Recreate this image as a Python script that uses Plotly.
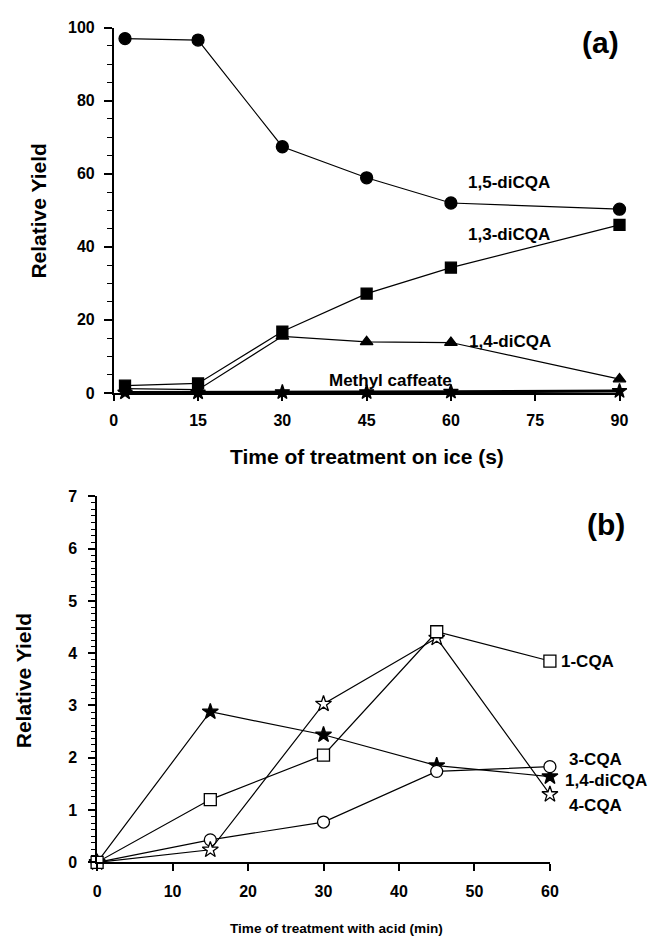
import plotly.graph_objects as go

# ---- (a) treatment on ice ----
time_ice = [2, 15, 30, 45, 60, 90]
dicqa_15 = [97.0, 96.6, 67.4, 58.9, 52.0, 50.3]
dicqa_13 = [2.0, 2.6, 16.8, 27.2, 34.3, 46.0]
dicqa_14 = [1.2, 0.9, 15.5, 14.0, 13.8, 3.8]
methyl_caffeate = [0.1, 0.1, 0.2, 0.2, 0.3, 0.5]
ice_xticks = [0, 15, 30, 45, 60, 75, 90]
ice_ystep, ice_yminor = 20, 5

# ---- (b) treatment with acid ----
time_acid = [0, 15, 30, 45, 60]
cqa_1 = [0.0, 1.20, 2.05, 4.41, 3.85]
cqa_3 = [0.0, 0.43, 0.77, 1.74, 1.83]
dicqa_14_acid = [0.0, 2.88, 2.44, 1.85, 1.64]
cqa_4 = [0.0, 0.24, 3.03, 4.29, 1.30]
acid_xticks = [0, 10, 20, 30, 40, 50, 60]
acid_ystep, acid_yminor = 1, 0.125

W, H = 653, 944
FONT = "Liberation Sans, Arial, sans-serif"


def px(x):
    return x / W


def py(y):
    return 1 - y / H


def line_trace(x, y, symbol, xa, ya, fill="black", size=11, width=1.2):
    return go.Scatter(
        x=x, y=y, xaxis=xa, yaxis=ya, mode="lines+markers",
        line=dict(color="black", width=width),
        marker=dict(symbol=symbol, size=size, color=fill,
                    line=dict(color="black", width=1.3)),
        cliponaxis=False, showlegend=False, hoverinfo="x+y",
    )


fig = go.Figure()

# panel (a)
fig.add_trace(line_trace(time_ice, methyl_caffeate, "star", "x", "y", size=11, width=3))
fig.add_trace(line_trace(time_ice, dicqa_14, "triangle-up", "x", "y"))
fig.add_trace(line_trace(time_ice, dicqa_13, "square", "x", "y", size=11))
fig.add_trace(line_trace(time_ice, dicqa_15, "circle", "x", "y", size=12))

# panel (b)
fig.add_trace(line_trace(time_acid, dicqa_14_acid, "star", "x2", "y2", size=12))
fig.add_trace(line_trace(time_acid, cqa_3, "circle", "x2", "y2", fill="white", size=12))
fig.add_trace(line_trace(time_acid, cqa_4, "star", "x2", "y2", fill="white", size=12))
fig.add_trace(line_trace(time_acid, cqa_1, "square", "x2", "y2", fill="white", size=12))

tickfont = dict(family=FONT, size=16, color="black", weight="bold")
axis_common = dict(
    showline=True, linecolor="black", linewidth=1.6, mirror=False,
    showgrid=False, zeroline=False, ticks="outside", tickcolor="black",
    tickwidth=1.5, tickfont=tickfont, fixedrange=True,
)

fig.update_layout(
    width=W, height=H,
    margin=dict(l=0, r=0, t=0, b=0),
    paper_bgcolor="white", plot_bgcolor="white",
    xaxis=dict(
        axis_common, domain=[px(112), px(628)], range=[0, 90],
        tickmode="array", tickvals=ice_xticks, ticklen=6,
        anchor="y", ticklabelstandoff=6,
    ),
    yaxis=dict(
        axis_common, domain=[py(392), py(20)], range=[0, 100],
        tickmode="linear", tick0=0, dtick=ice_ystep, ticklen=8,
        minor=dict(ticks="outside", tick0=0, dtick=ice_yminor, ticklen=5,
                   tickwidth=1.4, tickcolor="black"),
        anchor="x", ticklabelstandoff=6,
    ),
    xaxis2=dict(
        axis_common, domain=[px(95), px(557)], range=[0, 60],
        tickmode="array", tickvals=acid_xticks, ticklen=7,
        anchor="y2", ticklabelstandoff=7,
    ),
    yaxis2=dict(
        axis_common, domain=[py(870), py(497.3)], range=[0, 7],
        tickmode="linear", tick0=0, dtick=acid_ystep, ticklen=7,
        minor=dict(ticks="outside", tick0=0, dtick=acid_yminor, ticklen=4,
                   tickwidth=1.2, tickcolor="black"),
        anchor="x2", ticklabelstandoff=8,
    ),
)

ann = []


def paper_text(text, x, y, size, angle=0, xanchor="center"):
    ann.append(dict(
        text=text, x=px(x), y=py(y), xref="paper", yref="paper",
        xanchor=xanchor, yanchor="middle", showarrow=False, textangle=angle,
        font=dict(family=FONT, size=size, color="black", weight="bold"),
    ))


def axis_text(text, x, y, xa, ya, size=17):
    # place a label at data coordinates (x, y), converted to paper space so that
    # labels lying past the axis range are still drawn
    dom_x = fig.layout[xa].domain
    dom_y = fig.layout[ya].domain
    rx = fig.layout[xa].range
    ry = fig.layout[ya].range
    fx = dom_x[0] + (x - rx[0]) / (rx[1] - rx[0]) * (dom_x[1] - dom_x[0])
    fy = dom_y[0] + (y - ry[0]) / (ry[1] - ry[0]) * (dom_y[1] - dom_y[0])
    ann.append(dict(
        text=text, x=fx, y=fy, xref="paper", yref="paper", xanchor="left",
        yanchor="middle", showarrow=False,
        font=dict(family=FONT, size=size, color="black", weight="bold"),
    ))


# axis titles and panel tags
paper_text("Relative Yield", 35, 207, 21, angle=-90)
paper_text("Time of treatment on ice (s)", 370, 457, 21)
paper_text("(a)", 609, 35, 30)
paper_text("Relative Yield", 20, 685, 21, angle=-90)
paper_text("Time of treatment with acid (min)", 339, 937, 13.6)
paper_text("(b)", 614, 526, 30)

# series labels, panel (a)
axis_text("1,5-diCQA", 62.7, 57.5, "xaxis", "yaxis")
axis_text("1,3-diCQA", 62.7, 43.5, "xaxis", "yaxis")
axis_text("1,4-diCQA", 62.9, 14.2, "xaxis", "yaxis")
axis_text("Methyl caffeate", 38.0, 3.5, "xaxis", "yaxis")

# series labels, panel (b)
axis_text("1-CQA", 61.2, 3.85, "xaxis2", "yaxis2")
axis_text("3-CQA", 62.3, 1.97, "xaxis2", "yaxis2")
axis_text("1,4-diCQA", 61.8, 1.56, "xaxis2", "yaxis2")
axis_text("4-CQA", 62.3, 1.09, "xaxis2", "yaxis2")

fig.update_layout(annotations=ann)

fig.write_html("out.html")
